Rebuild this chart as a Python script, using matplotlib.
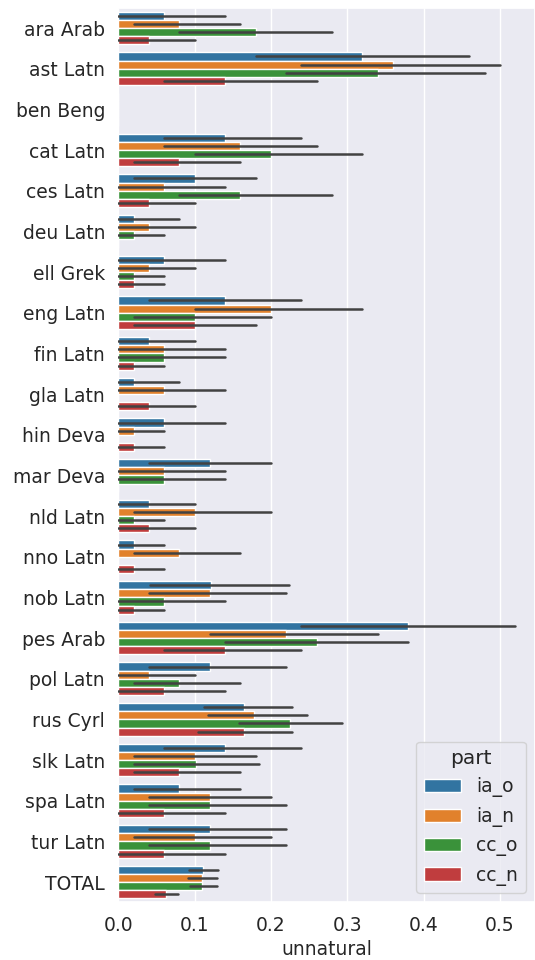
import matplotlib
matplotlib.use("Agg")
import matplotlib.pyplot as plt
import numpy as np
import seaborn as sns

sns.set_theme(style="darkgrid")
plt.rcParams['font.family'] = ['DejaVu Sans']

langs = ["ara Arab", "ast Latn", "ben Beng", "cat Latn", "ces Latn", "deu Latn",
         "ell Grek", "eng Latn", "fin Latn", "gla Latn", "hin Deva", "mar Deva",
         "nld Latn", "nno Latn", "nob Latn", "pes Arab", "pol Latn", "rus Cyrl",
         "slk Latn", "spa Latn", "tur Latn", "TOTAL"]
parts = ["ia_o", "ia_n", "cc_o", "cc_n"]

ia_o = [0.06, 0.32, 0, 0.14, 0.10, 0.02, 0.06, 0.14, 0.04, 0.02, 0.06, 0.12, 0.04, 0.02, 0.122, 0.38, 0.12, 0.165, 0.14, 0.08, 0.12, 0.111]
ia_o_lo = [0, 0.18, 0, 0.06, 0.02, 0, 0, 0.04, 0, 0, 0, 0.04, 0, 0, 0.041, 0.24, 0.04, 0.112, 0.06, 0.02, 0.04, 0.093]
ia_o_hi = [0.14, 0.46, 0, 0.24, 0.18, 0.08, 0.14, 0.24, 0.10, 0.08, 0.14, 0.20, 0.10, 0.06, 0.224, 0.52, 0.22, 0.227, 0.24, 0.16, 0.22, 0.131]

ia_n = [0.08, 0.36, 0, 0.16, 0.06, 0.04, 0.04, 0.20, 0.06, 0.06, 0.02, 0.06, 0.10, 0.08, 0.12, 0.22, 0.04, 0.178, 0.10, 0.12, 0.10, 0.1095]
ia_n_lo = [0.02, 0.24, 0, 0.06, 0, 0, 0, 0.10, 0, 0, 0, 0, 0.02, 0.02, 0.04, 0.12, 0, 0.118, 0.02, 0.04, 0.02, 0.091]
ia_n_hi = [0.16, 0.50, 0, 0.26, 0.14, 0.10, 0.10, 0.32, 0.14, 0.14, 0.06, 0.14, 0.20, 0.16, 0.22, 0.34, 0.10, 0.247, 0.18, 0.20, 0.20, 0.130]

cc_o = [0.18, 0.34, 0, 0.20, 0.16, 0.02, 0.02, 0.10, 0.06, 0, 0, 0.06, 0.02, 0, 0.06, 0.26, 0.08, 0.225, 0.102, 0.12, 0.12, 0.110]
cc_o_lo = [0.08, 0.22, 0, 0.10, 0.08, 0, 0, 0.02, 0, 0, 0, 0, 0, 0, 0, 0.14, 0.02, 0.158, 0.02, 0.04, 0.04, 0.094]
cc_o_hi = [0.28, 0.48, 0, 0.32, 0.28, 0.06, 0.06, 0.20, 0.14, 0, 0, 0.14, 0.06, 0, 0.14, 0.38, 0.16, 0.293, 0.184, 0.22, 0.22, 0.130]

cc_n = [0.04, 0.14, 0, 0.08, 0.04, 0, 0.02, 0.10, 0.02, 0.04, 0.02, 0, 0.04, 0.02, 0.02, 0.14, 0.06, 0.165, 0.08, 0.06, 0.06, 0.062]
cc_n_lo = [0, 0.06, 0, 0.02, 0, 0, 0, 0.02, 0, 0, 0, 0, 0, 0, 0, 0.06, 0, 0.105, 0.02, 0, 0, 0.0485]
cc_n_hi = [0.10, 0.26, 0, 0.16, 0.10, 0, 0.06, 0.18, 0.06, 0.10, 0.06, 0, 0.10, 0.06, 0.06, 0.24, 0.14, 0.227, 0.16, 0.14, 0.14, 0.078]

means = [ia_o, ia_n, cc_o, cc_n]
lows = [ia_o_lo, ia_n_lo, cc_o_lo, cc_n_lo]
highs = [ia_o_hi, ia_n_hi, cc_o_hi, cc_n_hi]
colors = ["#3274a1", "#e1812c", "#3a923a", "#c03d3e"]

fig = plt.figure(figsize=(5.35, 9.6), dpi=100)
ax = fig.add_axes([0.221, 0.060, 0.779, 0.932])

pos = np.arange(len(langs))
w = 0.2
for i, part in enumerate(parts):
    y = pos + (i - 1.5) * w
    ax.barh(y, means[i], height=w, color=colors[i], edgecolor="white",
            linewidth=1, label=part, zorder=2)
    for yy, lo, hi in zip(y, lows[i], highs[i]):
        ax.plot([lo, hi], [yy, yy], color=".26", linewidth=1.8, zorder=3)

ax.set_yticks(pos)
ax.set_yticklabels(langs)
ax.set_ylim(len(langs) - 0.5, -0.5)
ax.set_xlim(0, 0.546)
ax.set_xticks([0, 0.1, 0.2, 0.3, 0.4, 0.5])
ax.set_xticklabels(["0.0", "0.1", "0.2", "0.3", "0.4", "0.5"])
ax.grid(axis="y", visible=False)
ax.tick_params(labelsize=13.5)
ax.set_xlabel("unnatural", fontsize=13.5)

leg = ax.legend(title="part", loc="lower right", fontsize=13.5,
                title_fontsize=14.5)

fig.savefig("out.png", dpi=100)
